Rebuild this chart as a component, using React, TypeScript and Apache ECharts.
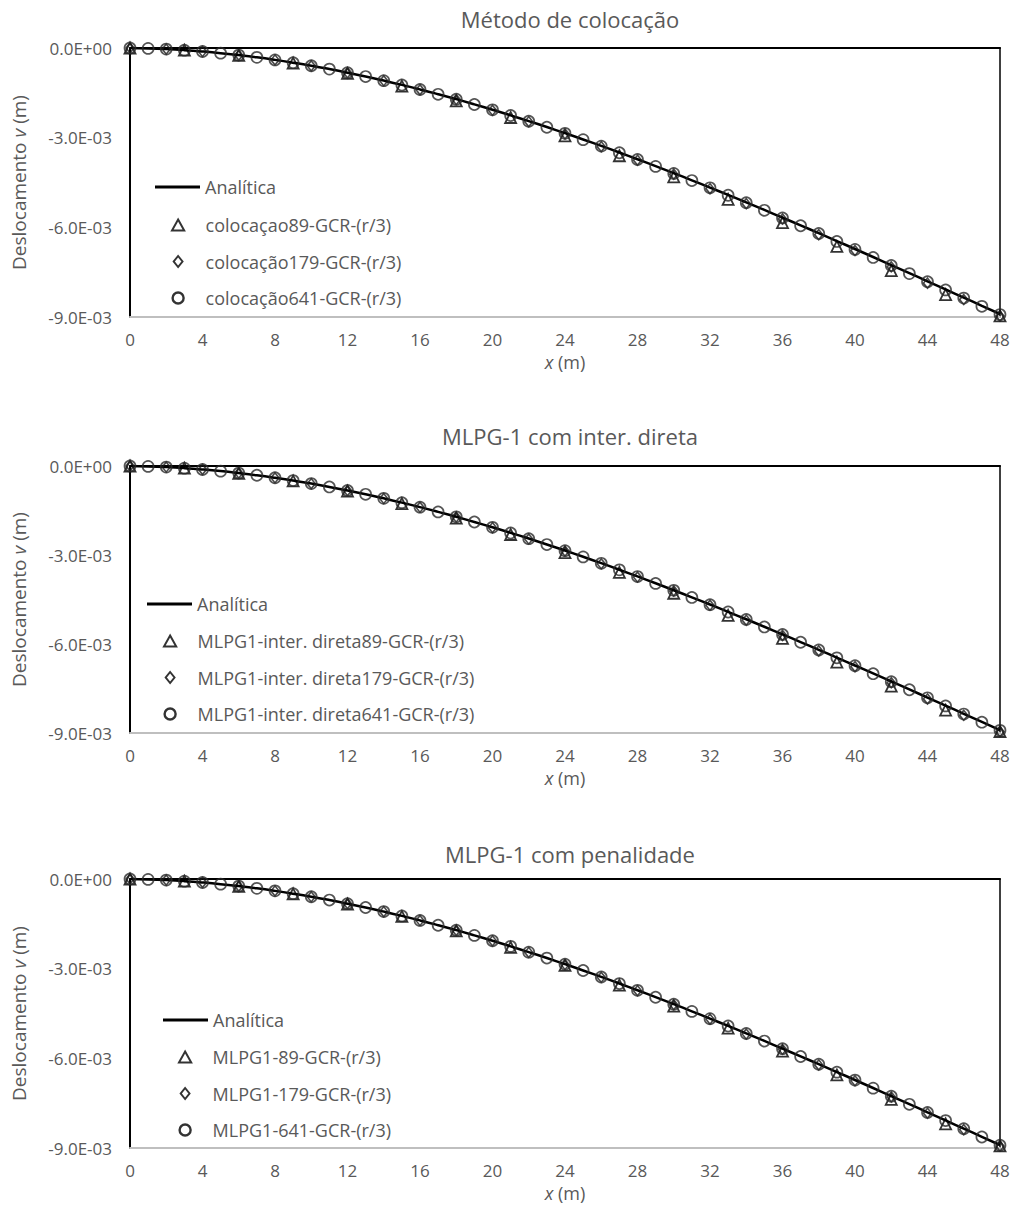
import React, { useEffect, useRef } from "react";
import * as echarts from "echarts";

const titles = ["Método de colocação", "MLPG-1 com inter. direta", "MLPG-1 com penalidade"];

const xFine = [0, 1, 2, 3, 4, 5, 6, 7, 8, 9, 10, 11, 12, 13, 14, 15, 16, 17, 18, 19, 20, 21, 22, 23, 24, 25, 26, 27, 28, 29, 30, 31, 32, 33, 34, 35, 36, 37, 38, 39, 40, 41, 42, 43, 44, 45, 46, 47, 48];
const x179 = [0, 2, 4, 6, 8, 10, 12, 14, 16, 18, 20, 22, 24, 26, 28, 30, 32, 34, 36, 38, 40, 42, 44, 46, 48];
const x89 = [0, 3, 6, 9, 12, 15, 18, 21, 24, 27, 30, 33, 36, 39, 42, 45, 48];

const analitica = [0, -0.0000132, -0.0000372, -0.0000719, -0.000117, -0.000172, -0.000238, -0.000312, -0.000397, -0.000491, -0.000593, -0.000705, -0.000825, -0.000953, -0.00109, -0.001234, -0.001386, -0.001546, -0.001712, -0.001886, -0.002066, -0.002253, -0.002446, -0.002645, -0.00285, -0.00306, -0.003276, -0.003497, -0.003723, -0.003953, -0.004187, -0.004426, -0.004669, -0.004916, -0.005166, -0.005419, -0.005675, -0.005934, -0.006195, -0.006459, -0.006725, -0.006993, -0.007262, -0.007533, -0.007805, -0.008078, -0.008352, -0.008626, -0.0089];

const col89 = [0, -0.000074, -0.000245, -0.000506, -0.000851, -0.001273, -0.001767, -0.002325, -0.002938, -0.003605, -0.004315, -0.005063, -0.00584, -0.00664, -0.00745, -0.00825, -0.00896];
const col179 = [0, -0.0000375, -0.000118, -0.00024, -0.0004, -0.000598, -0.000832, -0.001099, -0.001397, -0.001726, -0.002083, -0.002466, -0.002873, -0.003302, -0.003753, -0.00422, -0.004706, -0.005207, -0.00572, -0.006244, -0.006778, -0.00732, -0.007867, -0.008418, -0.00897];
const col641 = [0, -0.0000133, -0.0000373, -0.0000721, -0.000117, -0.000173, -0.000238, -0.000313, -0.000398, -0.000492, -0.000595, -0.000706, -0.000827, -0.000955, -0.001092, -0.001237, -0.001389, -0.001549, -0.001716, -0.00189, -0.00207, -0.002258, -0.002451, -0.002651, -0.002856, -0.003066, -0.003283, -0.003504, -0.00373, -0.003961, -0.004195, -0.004435, -0.004678, -0.004926, -0.005176, -0.00543, -0.005686, -0.005946, -0.006207, -0.006472, -0.006738, -0.007007, -0.007277, -0.007548, -0.00782, -0.008094, -0.008368, -0.008643, -0.008918];

const dir89 = [0, -0.000074, -0.000244, -0.000503, -0.000846, -0.001265, -0.001755, -0.002309, -0.002921, -0.003584, -0.00429, -0.005035, -0.00581, -0.00661, -0.00742, -0.00823, -0.00895];
const dir179 = [0, -0.0000374, -0.000118, -0.000239, -0.000399, -0.000597, -0.00083, -0.001097, -0.001394, -0.001722, -0.002078, -0.002461, -0.002867, -0.003296, -0.003745, -0.004212, -0.004697, -0.005197, -0.005709, -0.006232, -0.006765, -0.007305, -0.007852, -0.008402, -0.008953];
const dir641 = [0, -0.0000132, -0.0000372, -0.000072, -0.000117, -0.000173, -0.000238, -0.000313, -0.000397, -0.000491, -0.000594, -0.000706, -0.000826, -0.000954, -0.001091, -0.001236, -0.001388, -0.001548, -0.001714, -0.001888, -0.002068, -0.002256, -0.002449, -0.002648, -0.002853, -0.003064, -0.00328, -0.003501, -0.003727, -0.003958, -0.004192, -0.004431, -0.004674, -0.004921, -0.005172, -0.005425, -0.005681, -0.005941, -0.006202, -0.006466, -0.006733, -0.007001, -0.007271, -0.007542, -0.007814, -0.008087, -0.008361, -0.008636, -0.00891];

const pen89 = [0, -0.000073, -0.000242, -0.000498, -0.000837, -0.001252, -0.001738, -0.002287, -0.002893, -0.00355, -0.00425, -0.00499, -0.00576, -0.006555, -0.00737, -0.00819, -0.00893];
const pen179 = [0, -0.0000373, -0.000117, -0.000239, -0.000399, -0.000595, -0.000828, -0.001094, -0.001392, -0.001719, -0.002074, -0.002456, -0.002861, -0.003289, -0.003738, -0.004204, -0.004688, -0.005187, -0.005698, -0.00622, -0.006752, -0.007291, -0.007836, -0.008385, -0.008936];
const pen641 = [0, -0.0000132, -0.0000372, -0.0000719, -0.000117, -0.000172, -0.000238, -0.000313, -0.000397, -0.000491, -0.000594, -0.000705, -0.000826, -0.000954, -0.00109, -0.001235, -0.001387, -0.001547, -0.001713, -0.001887, -0.002067, -0.002254, -0.002447, -0.002646, -0.002851, -0.003062, -0.003278, -0.003499, -0.003725, -0.003955, -0.00419, -0.004429, -0.004672, -0.004919, -0.005169, -0.005422, -0.005678, -0.005938, -0.006199, -0.006463, -0.006729, -0.006997, -0.007267, -0.007538, -0.00781, -0.008083, -0.008357, -0.008631, -0.008905];

const names89 = ["colocaçao89-GCR-(r/3)", "MLPG1-inter. direta89-GCR-(r/3)", "MLPG1-89-GCR-(r/3)"];
const names179 = ["colocação179-GCR-(r/3)", "MLPG1-inter. direta179-GCR-(r/3)", "MLPG1-179-GCR-(r/3)"];
const names641 = ["colocação641-GCR-(r/3)", "MLPG1-inter. direta641-GCR-(r/3)", "MLPG1-641-GCR-(r/3)"];
const analName = "Analítica";

const data89 = [col89, dir89, pen89];
const data179 = [col179, dir179, pen179];
const data641 = [col641, dir641, pen641];

const FONT = "'Open Sans', sans-serif";
const GREY = "#595959";

const gridTops = [48, 466, 879];
const gridHeights = [269, 267, 269];
const titleTops = [3, 420, 838];
const legendLineLefts = [150, 142, 158];
const legendMarkLefts = [166, 158, 173];
const legendLineTops = [173, 590, 1006];
const legendMarkTops = [211, 627, 1043];

const ICON_LINE = "path://M0,0 L45,0 L45,3 L0,3 Z";
const ICON_TRI = "path://M5,0 L10,9 L0,9 Z";
const ICON_DIA = "path://M4,0 L8,5 L4,10 L0,5 Z";
const ICON_CIR = "path://M0,5 A5,5 0 1,1 10,5 A5,5 0 1,1 0,5 Z";

const zip = (xs: number[], ys: number[]) => xs.map((x, i) => [x, ys[i]]);

const fmtY = (v: number) => {
  if (Math.abs(v) < 1e-12) return "0.0E+00";
  const [m, e] = v.toExponential(1).split("e");
  const en = parseInt(e, 10);
  const sign = en < 0 ? "-" : "+";
  const ea = Math.abs(en);
  return `${m}E${sign}${ea < 10 ? "0" + ea : ea}`;
};

export default function App() {
  const ref = useRef<HTMLDivElement>(null);
  useEffect(() => {
    if (!ref.current) return;
    const chart = echarts.init(ref.current, undefined, { renderer: "svg" });
    const grid: any[] = [];
    const xAxis: any[] = [];
    const yAxis: any[] = [];
    const series: any[] = [];
    const title: any[] = [];
    const legend: any[] = [];
    const hollow = { color: "rgba(0,0,0,0)", borderColor: "#000", borderWidth: 2 };
    for (let i = 0; i < 3; i++) {
      grid.push({ left: 130, right: 14, top: gridTops[i], height: gridHeights[i] });
      title.push({
        text: titles[i],
        left: 565,
        textAlign: "center",
        top: titleTops[i],
        textStyle: { fontFamily: FONT, fontSize: 22, fontWeight: "normal", color: GREY },
      });
      xAxis.push({
        gridIndex: i,
        type: "value",
        min: 0,
        max: 48,
        interval: 4,
        position: "bottom",
        axisLine: { show: true, onZero: false, lineStyle: { color: "#bfbfbf", width: 2 } },
        axisTick: { show: false },
        splitLine: { show: false },
        axisLabel: { color: GREY, fontSize: 17, fontFamily: FONT, margin: 14 },
        name: "{i|x} (m)",
        nameLocation: "middle",
        nameGap: 36,
        nameTextStyle: {
          color: GREY,
          fontSize: 18,
          fontFamily: FONT,
          rich: { i: { fontStyle: "italic", color: GREY, fontSize: 18, fontFamily: FONT } },
        },
      });
      xAxis.push({
        gridIndex: i,
        type: "value",
        min: 0,
        max: 48,
        position: "top",
        axisLine: { show: true, onZero: false, lineStyle: { color: "#000", width: 2 } },
        axisTick: { show: false },
        axisLabel: { show: false },
        splitLine: { show: false },
      });
      yAxis.push({
        gridIndex: i,
        type: "value",
        min: -0.009,
        max: 0,
        interval: 0.003,
        position: "left",
        axisLine: { show: true, onZero: false, lineStyle: { color: "#000", width: 2 } },
        axisTick: { show: false },
        splitLine: { show: false },
        axisLabel: { color: GREY, fontSize: 17, fontFamily: FONT, margin: 18, formatter: fmtY },
        name: "Deslocamento {i|v} (m)",
        nameLocation: "middle",
        nameGap: 102,
        nameTextStyle: {
          color: GREY,
          fontSize: 19,
          fontFamily: FONT,
          rich: { i: { fontStyle: "italic", color: GREY, fontSize: 19, fontFamily: FONT } },
        },
      });
      yAxis.push({
        gridIndex: i,
        type: "value",
        min: -0.009,
        max: 0,
        position: "right",
        axisLine: { show: true, onZero: false, lineStyle: { color: "#000", width: 1.5 } },
        axisTick: { show: false },
        axisLabel: { show: false },
        splitLine: { show: false },
      });
      const xi = i * 2;
      const yi = i * 2;
      series.push({
        name: analName,
        type: "line",
        xAxisIndex: xi,
        yAxisIndex: yi,
        data: zip(xFine, analitica),
        smooth: true,
        symbol: "none",
        itemStyle: { color: "#000" },
        lineStyle: { color: "#000", width: 2.5 },
        z: 3,
      });
      series.push({
        name: names89[i],
        type: "scatter",
        xAxisIndex: xi,
        yAxisIndex: yi,
        data: zip(x89, data89[i]),
        symbol: "triangle",
        symbolSize: 11,
        itemStyle: { color: "rgba(0,0,0,0)", borderColor: "#000", borderWidth: 1.8 },
        z: 4,
      });
      series.push({
        name: names179[i],
        type: "scatter",
        xAxisIndex: xi,
        yAxisIndex: yi,
        data: zip(x179, data179[i]),
        symbol: "diamond",
        symbolSize: [8, 10],
        itemStyle: { color: "rgba(0,0,0,0)", borderColor: "#1a1a1a", borderWidth: 1.6 },
        z: 4,
      });
      series.push({
        name: names641[i],
        type: "scatter",
        xAxisIndex: xi,
        yAxisIndex: yi,
        data: zip(xFine, data641[i]),
        symbol: "circle",
        symbolSize: 11,
        itemStyle: { color: "rgba(0,0,0,0)", borderColor: "#2b2b2b", borderWidth: 1.7 },
        z: 4,
      });
      legend.push({
        orient: "vertical",
        left: legendLineLefts[i],
        top: legendLineTops[i],
        itemWidth: 45,
        itemHeight: 11,
        symbolKeepAspect: true,
        selectedMode: false,
        textStyle: { color: GREY, fontSize: 18, fontFamily: FONT },
        data: [{ name: analName, icon: ICON_LINE, itemStyle: { color: "#000", borderWidth: 0 } }],
      });
      legend.push({
        orient: "vertical",
        left: legendMarkLefts[i],
        top: legendMarkTops[i],
        itemWidth: 45,
        itemHeight: 11,
        itemGap: 18.5,
        symbolKeepAspect: true,
        selectedMode: false,
        textStyle: { color: GREY, fontSize: 18, fontFamily: FONT },
        data: [
          { name: names89[i], icon: ICON_TRI, itemStyle: hollow },
          { name: names179[i], icon: ICON_DIA, itemStyle: hollow },
          { name: names641[i], icon: ICON_CIR, itemStyle: { ...hollow, borderWidth: 2.4 } },
        ],
      });
    }
    chart.setOption({
      animation: false,
      backgroundColor: "#fff",
      textStyle: { fontFamily: FONT },
      title,
      grid,
      xAxis,
      yAxis,
      legend,
      series,
    });
    return () => chart.dispose();
  }, []);
  return <div ref={ref} style={{ position: "fixed", left: 0, top: 0, width: 1014, height: 1207 }} />;
}
